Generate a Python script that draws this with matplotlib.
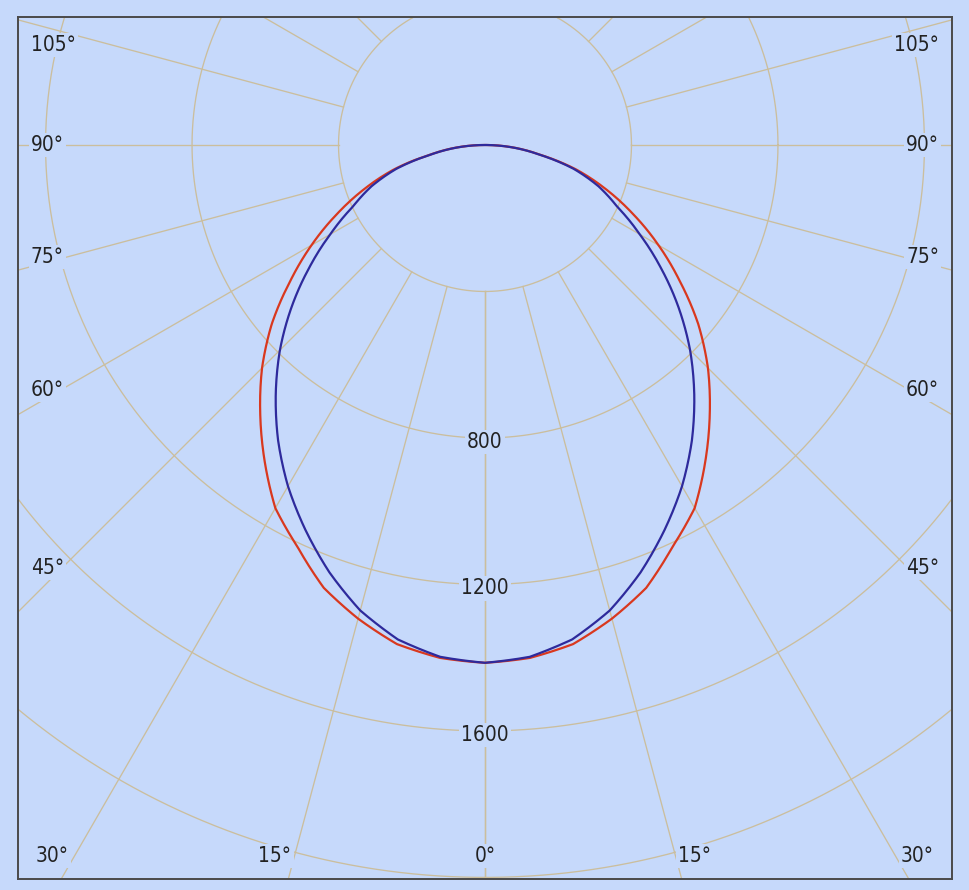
import numpy as np
import matplotlib
matplotlib.use("Agg")
import matplotlib.pyplot as plt
from matplotlib.path import Path
from matplotlib.patches import PathPatch
from matplotlib.projections.polar import PolarAxes

# ---------------- data (luminous intensity, cd) ----------------
gamma_deg = [0, 5, 10, 15, 20, 25, 30, 35, 40, 45, 50, 55, 60, 65, 70, 75, 80, 85, 90]
red_cd = [1414, 1406, 1384, 1339, 1287, 1211, 1145, 1050, 955, 861, 760, 650, 547, 446, 350, 257, 152, 77, 0]
blue_cd = [1414, 1403, 1371, 1316, 1242, 1160, 1076, 985, 889, 792, 690, 587, 488, 398, 330, 250, 150, 75, 0]

ring_values = [400, 800, 1200, 1600, 2000, 2400]
ring_labels = ["800", "1200", "1600"]
ray_angles = list(range(0, 181, 15))

# ---------------- layout ----------------
W, H = 969, 890
frame_l, frame_r, frame_t, frame_b = 18, 952, 17, 879
cx, cy = 485, 145          # pole position in pixels
s = 0.3662                 # pixels per cd

BG = "#C6D9FB"
GRID = "#CBBE9D"
TXT = "#222222"

fig = plt.figure(figsize=(W / 100, H / 100), dpi=100, facecolor=BG)
ax = fig.add_axes([frame_l / W, 1 - frame_b / H, (frame_r - frame_l) / W, (frame_b - frame_t) / H])
ax.set_facecolor(BG)
ax.set_xlim((frame_l - cx) / s, (frame_r - cx) / s)
ax.set_ylim((cy - frame_b) / s, (cy - frame_t) / s)
ax.set_xticks([])
ax.set_yticks([])
for sp in ax.spines.values():
    sp.set_color("#4A4A4A")
    sp.set_linewidth(1.4)

# polar (theta, r) -> cartesian data transform; 0° of the chart points down
polar_tr = PolarAxes.PolarTransform(apply_theta_transforms=False) + ax.transData


def px2data(px, py):
    return (px - cx) / s, (cy - py) / s


# rings
t = np.linspace(0, 2 * np.pi, 720)
for rv in ring_values:
    ax.plot(rv * np.cos(t), rv * np.sin(t), color=GRID, lw=0.95, zorder=1)

# rays, from the 400 ring outward
for a in ray_angles:
    ar = np.deg2rad(a)
    for sgn in (-1, 1):
        r = np.array([ring_values[0], 4000])
        ax.plot(sgn * r * np.sin(ar), -r * np.cos(ar), color=GRID, lw=0.95, zorder=1)

# curves (C0-C180 red, C90-C270 blue), mirrored about the 0° axis,
# segments drawn in polar space by the polar transform
g = np.deg2rad(np.array(gamma_deg, dtype=float))
full_g = np.concatenate([-g[::-1], g[1:]])
theta = full_g - np.pi / 2
for vals, col in ((red_cd, "#D9381E"), (blue_cd, "#2E2A9C")):
    v = np.array(vals, dtype=float)
    full_v = np.concatenate([v[::-1], v[1:]])
    path = Path(np.column_stack([theta, full_v]), _interpolation_steps=24)
    ax.add_patch(PathPatch(path, facecolor="none", edgecolor=col, lw=1.6, zorder=3,
                           transform=polar_tr, joinstyle="round"))

fkw = dict(fontsize=15, color=TXT, family="DejaVu Sans", fontstretch="condensed", zorder=4,
           bbox=dict(facecolor=BG, edgecolor="none", pad=1.5))

# ring labels on the 0° ray
for lab in ring_labels:
    rv = float(lab)
    ax.text(0, -(rv + 11), lab, ha="center", va="center", **fkw)

# angle labels
side_y = {"105°": 45, "90°": 145, "75°": 257, "60°": 390, "45°": 568}
for lab, py in side_y.items():
    x, y = px2data(31, py)
    ax.text(x, y, lab, ha="left", va="center", **fkw)
    x, y = px2data(939, py)
    ax.text(x, y, lab, ha="right", va="center", **fkw)

bottom = [("30°", 36, "left"), ("15°", 275, "center"), ("0°", 485, "center"),
          ("15°", 695, "center"), ("30°", 934, "right")]
for lab, px, ha in bottom:
    x, y = px2data(px, 856)
    ax.text(x, y, lab, ha=ha, va="center", **fkw)

fig.savefig("out.png", dpi=100, facecolor=BG)
